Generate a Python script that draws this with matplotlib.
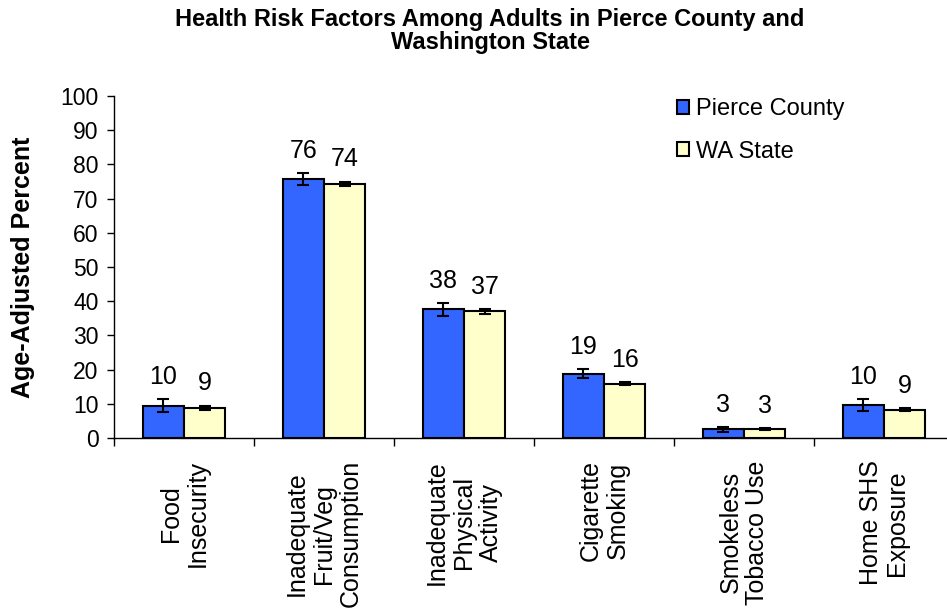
import numpy as np
import matplotlib
matplotlib.use('Agg')
from matplotlib import pyplot as plt

plt.rcParams['font.family'] = ['Liberation Sans', 'DejaVu Sans']

# 数据
categories = ['Food\nInsecurity', 'Inadequate\nFruit/Veg\nConsumption', 'Inadequate\nPhysical\nActivity',
              'Cigarette\nSmoking', 'Smokeless\nTobacco Use', 'Home SHS\nExposure']
pierce_vals = [9.4, 75.7, 37.6, 18.8, 2.5, 9.7]
pierce_err = [1.9, 1.7, 1.8, 1.4, 0.7, 1.7]
pierce_labels = ['10', '76', '38', '19', '3', '10']
wa_vals = [8.8, 74.4, 37.0, 15.9, 2.7, 8.3]
wa_err = [0.7, 0.6, 0.6, 0.5, 0.3, 0.4]
wa_labels = ['9', '74', '37', '16', '3', '9']

fig = plt.figure(figsize=(9.47, 6.16), dpi=100)
ax = fig.add_axes([114 / 947, (616 - 438) / 616, 840 / 947, (438 - 96) / 616])

x = np.arange(len(categories))
w = 0.293

err_kw = dict(ecolor='black', elinewidth=1.5, capsize=4, capthick=1.5)
ax.bar(x - w / 2, pierce_vals, w, yerr=pierce_err, color='#3366FF', edgecolor='black',
       linewidth=1.5, label='Pierce County', error_kw=err_kw, zorder=2)
ax.bar(x + w / 2, wa_vals, w, yerr=wa_err, color='#FFFFCC', edgecolor='black',
       linewidth=1.5, label='WA State', error_kw=err_kw, zorder=2)

# 数值标签
for i in range(len(categories)):
    ax.annotate(pierce_labels[i], (x[i] - w / 2, pierce_vals[i] + pierce_err[i]),
                xytext=(0, 16), textcoords='offset points', ha='center', va='center', fontsize=18)
    ax.annotate(wa_labels[i], (x[i] + w / 2, wa_vals[i] + wa_err[i]),
                xytext=(0, 16), textcoords='offset points', ha='center', va='center', fontsize=18)

ax.set_xlim(-0.5, len(categories) - 0.5)
ax.set_ylim(0, 100)
ax.set_yticks(np.arange(0, 101, 10))
ax.tick_params(axis='y', labelsize=16.5, length=5, width=1, direction='out', pad=6)

ax.set_xticks(x)
ax.set_xticklabels(categories, rotation=90, fontsize=18, linespacing=1.15)
ax.tick_params(axis='x', which='major', length=0, pad=16)
ax.set_xticks(np.arange(-0.5, len(categories), 1), minor=True)
ax.tick_params(axis='x', which='minor', length=6, width=1, direction='out')

ax.spines['top'].set_visible(False)
ax.spines['right'].set_visible(False)
ax.spines['left'].set_linewidth(1)
ax.spines['bottom'].set_linewidth(1)

ax.set_ylabel('Age-Adjusted Percent', fontsize=18, fontweight='bold', labelpad=18)

fig.text(490 / 947, 1 - 31 / 616, 'Health Risk Factors Among Adults in Pierce County and\nWashington State',
         ha='center', va='center', fontsize=17, fontweight='bold', linespacing=1.0)

ax.legend(loc='upper left', bbox_to_anchor=(0.645, 1.055), frameon=False, fontsize=17,
          handlelength=0.5, handleheight=0.5, handletextpad=0.3, labelspacing=0.85)

plt.savefig('out.png', dpi=100)
